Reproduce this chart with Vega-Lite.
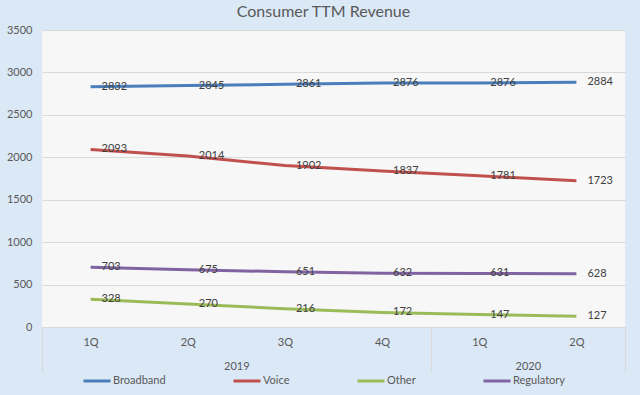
{
  "$schema": "https://vega.github.io/schema/vega-lite/v6.json",
  "width": 583,
  "height": 297,
  "autosize": "none",
  "padding": {"left": 42, "top": 30, "right": 15, "bottom": 68},
  "background": "#dbe8f6",
  "config": {"view": {"fill": "#f7f7f7", "stroke": null}, "font": "Lato"},
  "title": {"text": "Consumer TTM Revenue", "fontSize": 16, "font": "Lato", "fontWeight": "normal", "color": "#595959", "anchor": "middle", "offset": 4, "dx": -10},
  "data": {"values": [
    {"idx": 1, "series": "Broadband", "value": 2832},
    {"idx": 2, "series": "Broadband", "value": 2845},
    {"idx": 3, "series": "Broadband", "value": 2861},
    {"idx": 4, "series": "Broadband", "value": 2876},
    {"idx": 5, "series": "Broadband", "value": 2876},
    {"idx": 6, "series": "Broadband", "value": 2884},
    {"idx": 1, "series": "Voice", "value": 2093},
    {"idx": 2, "series": "Voice", "value": 2014},
    {"idx": 3, "series": "Voice", "value": 1902},
    {"idx": 4, "series": "Voice", "value": 1837},
    {"idx": 5, "series": "Voice", "value": 1781},
    {"idx": 6, "series": "Voice", "value": 1723},
    {"idx": 1, "series": "Other", "value": 328},
    {"idx": 2, "series": "Other", "value": 270},
    {"idx": 3, "series": "Other", "value": 216},
    {"idx": 4, "series": "Other", "value": 172},
    {"idx": 5, "series": "Other", "value": 147},
    {"idx": 6, "series": "Other", "value": 127},
    {"idx": 1, "series": "Regulatory", "value": 703},
    {"idx": 2, "series": "Regulatory", "value": 675},
    {"idx": 3, "series": "Regulatory", "value": 651},
    {"idx": 4, "series": "Regulatory", "value": 632},
    {"idx": 5, "series": "Regulatory", "value": 631},
    {"idx": 6, "series": "Regulatory", "value": 628}
  ]},
  "encoding": {
    "x": {
      "field": "idx", "type": "quantitative",
      "scale": {"domain": [0.5, 6.5], "nice": false, "zero": false},
      "axis": {
        "title": null,
        "values": [0.5, 1, 2, 2.5, 3, 4, 4.5, 5, 5.5, 6, 6.5],
        "labelExpr": "datum.value == 2.5 ? '2019' : datum.value == 5.5 ? '2020' : (datum.value % 1 == 0 ? ['1Q','2Q','3Q','4Q','1Q','2Q'][datum.value - 1] : '')",
        "tickSize": 45,
        "tickColor": {"condition": {"test": "datum.value == 0.5 || datum.value == 4.5 || datum.value == 6.5", "value": "#d9d9d9"}, "value": "transparent"},
        "labelPadding": {"condition": {"test": "datum.value == 2.5 || datum.value == 5.5", "value": -12}, "value": -36},
        "labelFontSize": 11,
        "labelColor": "#595959",
        "labelOverlap": false,
        "labelBound": false,
        "labelFlush": false,
        "domainColor": "#d9d9d9",
        "grid": false
      }
    },
    "y": {
      "field": "value", "type": "quantitative",
      "scale": {"domain": [0, 3500], "nice": false},
      "axis": {
        "title": null,
        "values": [0, 500, 1000, 1500, 2000, 2500, 3000, 3500],
        "format": "d",
        "ticks": false,
        "domain": false,
        "labelPadding": 10,
        "labelFontSize": 11,
        "labelColor": "#595959",
        "gridColor": "#d9d9d9",
        "labelFlush": false
      }
    },
    "color": {
      "field": "series", "type": "nominal",
      "scale": {"domain": ["Broadband", "Voice", "Other", "Regulatory"], "range": ["#4a7ebb", "#c0504d", "#9bbb59", "#8064a2"]},
      "legend": {
        "orient": "none", "legendX": 40, "legendY": 336, "direction": "horizontal",
        "title": null, "symbolType": "stroke", "symbolStrokeWidth": 3, "symbolSize": 729,
        "labelFontSize": 11, "labelColor": "#595959", "columnPadding": 61, "labelOffset": 1
      }
    }
  },
  "layer": [
    {"mark": {"type": "line", "strokeWidth": 3}},
    {"mark": {"type": "text", "align": "left", "baseline": "middle", "dx": 11, "fontSize": 11, "color": "#404040"},
     "encoding": {"text": {"field": "value", "type": "quantitative", "format": "d"}, "color": {"value": "#404040"}}}
  ]
}
